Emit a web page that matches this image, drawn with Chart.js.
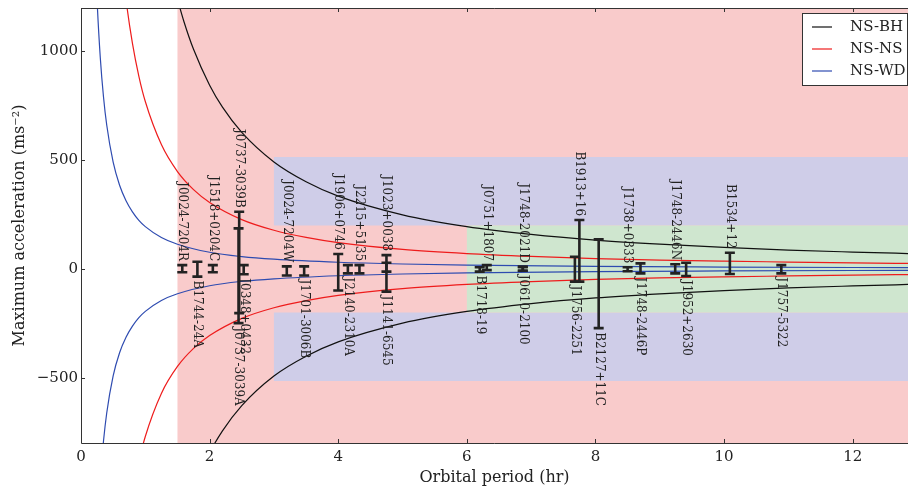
<!DOCTYPE html>
<html>
<head>
<meta charset="utf-8">
<script src="https://cdn.jsdelivr.net/npm/chart.js@4.4.1/dist/chart.umd.min.js"></script>
<style>
  html, body { margin: 0; padding: 0; background: #fff; }
  #wrap { width: 908px; height: 488px; }
</style>
</head>
<body>
<div id="wrap"><canvas id="grafico" width="908" height="488"></canvas></div>
<script>
// ===== DADOS =====
const xTicks = [0, 2, 4, 6, 8, 10, 12];
const yTicks = [-500, 0, 500, 1000];

// curvas de aceleração máxima (período em horas, aceleração em m/s^2)
const bhPeriodo = [1.5, 1.6, 1.75, 2, 2.2, 2.5, 3, 3.5, 4, 5, 6, 7, 8, 9, 10, 11, 12, 13];
const bhAcel    = [1240, 1138, 1010, 845, 744, 628, 492, 401, 335, 249, 195, 159, 133, 114, 99, 87, 78, 70];

const nsPeriodo = [0.6, 0.7, 0.8, 0.9, 1, 1.25, 1.5, 1.75, 2, 2.5, 3, 3.5, 4, 5, 6, 7, 8, 9, 10, 11, 12, 13];
const nsAcel    = [1522, 1239, 1037, 886, 770, 572, 448, 365, 306, 227, 178, 145, 121, 90, 71, 58, 48, 41, 36, 32, 28, 25];

const wdPeriodo = [0.2, 0.25, 0.3, 0.35, 0.4, 0.5, 0.6, 0.7, 0.8, 0.9, 1, 1.25, 1.5, 2, 2.5, 3, 4, 5, 6, 8, 10, 13];
const wdAcel    = [1667, 1238, 971, 791, 662, 491, 385, 314, 263, 224, 195, 145, 114, 77, 57, 45, 31, 23, 18, 12, 9, 6];

// zonas sombreadas (início em x, faixa em y)
const zonaX    = [1.5, 3, 3, 6];
const zonaYmin = [-800, 200, -515, -200];
const zonaYmax = [1200, 515, -200, 200];

// pulsares: período orbital, faixa de aceleração, lado do rótulo
const psrNomes = ['J0024-7204R', 'B1744-24A', 'J1518+0204C', 'J0737-3039B', 'J0348+0432', 'J0737-3039A',
  'J0024-7204W', 'J1701-3006B', 'J1906+0746', 'J2140-2310A', 'J2215+5135', 'J1023+0038', 'J1141-6545',
  'B1718-19', 'J0751+1807', 'J1748-2021D', 'J0610-2100', 'J1756-2251', 'B1913+16', 'B2127+11C',
  'J1738+0333', 'J1748-2446P', 'J1748-2446N', 'J1952+2630', 'B1534+12', 'J1757-5322'];
const psrPeriodo = [1.575, 1.81, 2.05, 2.46, 2.53, 2.45,
  3.2, 3.47, 4.0, 4.15, 4.33, 4.75, 4.75,
  6.2, 6.31, 6.87, 6.87, 7.68, 7.75, 8.05,
  8.5, 8.7, 9.24, 9.41, 10.09, 10.89];
const psrMin = [-15, -35, -15, -203, -24, -249,
  -30, -30, -99, -20, -20, -12, -104,
  -12, -5, -8, -8, -58, -58, -272,
  -10, -20, -20, -32, -23, -20];
const psrMax = [18, 33, 18, 263, 18, 187,
  12, 12, 69, 18, 18, 64, 29,
  8, 18, 10, 10, 56, 225, 136,
  8, 26, 22, 29, 75, 18];
const psrLado = ['cima', 'baixo', 'cima', 'cima', 'baixo', 'baixo',
  'cima', 'baixo', 'cima', 'baixo', 'cima', 'cima', 'baixo',
  'baixo', 'cima', 'cima', 'baixo', 'baixo', 'cima', 'baixo',
  'cima', 'baixo', 'cima', 'baixo', 'cima', 'baixo'];

const legendaNomes = ['NS-BH', 'NS-NS', 'NS-WD'];

// ===== ESTILO =====
const corBH = '#111111';
const corNS = '#ee1c1c';
const corWD = '#2e4bb0';
const corZona = ['#f9cbcb', '#cfcde8', '#cfcde8', '#cfe6cf'];
const corTexto = '#222';
const fonte = '"DejaVu Serif", serif';

function pontos(px, py, sinal) {
  return px.map((p, i) => ({ x: p, y: sinal * py[i] }));
}

function curva(px, py, sinal, cor) {
  return {
    data: pontos(px, py, sinal),
    showLine: true,
    borderColor: cor,
    borderWidth: 1.2,
    pointRadius: 0,
    cubicInterpolationMode: 'monotone',
    fill: false
  };
}

// ===== PLUGINS =====
const fundo = {
  id: 'fundo',
  beforeDatasetsDraw(chart) {
    const { ctx, chartArea: a, scales: { x, y } } = chart;
    ctx.save();
    ctx.beginPath();
    ctx.rect(a.left, a.top, a.right - a.left, a.bottom - a.top);
    ctx.clip();
    zonaX.forEach((x0, i) => {
      const px = x.getPixelForValue(x0);
      const topo = y.getPixelForValue(zonaYmax[i]);
      const base = y.getPixelForValue(zonaYmin[i]);
      ctx.fillStyle = corZona[i];
      ctx.fillRect(px, topo, a.right - px, base - topo);
    });
    ctx.restore();
  }
};

const pulsares = {
  id: 'pulsares',
  afterDatasetsDraw(chart) {
    const { ctx, scales: { x, y } } = chart;
    ctx.save();
    // barras de erro
    ctx.strokeStyle = '#222';
    ctx.lineWidth = 2.6;
    psrNomes.forEach((nome, i) => {
      const px = x.getPixelForValue(psrPeriodo[i]);
      const yTopo = y.getPixelForValue(psrMax[i]);
      const yBase = y.getPixelForValue(psrMin[i]);
      ctx.beginPath();
      ctx.moveTo(px, yTopo); ctx.lineTo(px, yBase);
      ctx.moveTo(px - 5, yTopo); ctx.lineTo(px + 5, yTopo);
      ctx.moveTo(px - 5, yBase); ctx.lineTo(px + 5, yBase);
      ctx.stroke();
    });
    // rótulos verticais
    ctx.font = '12px ' + fonte;
    ctx.fillStyle = corTexto;
    ctx.textBaseline = 'middle';
    psrNomes.forEach((nome, i) => {
      const px = x.getPixelForValue(psrPeriodo[i]);
      const cima = psrLado[i] === 'cima';
      const ref = y.getPixelForValue(cima ? psrMax[i] : psrMin[i]);
      ctx.save();
      ctx.translate(px, ref);
      ctx.rotate(Math.PI / 2);
      ctx.textAlign = cima ? 'right' : 'left';
      ctx.fillText(nome, cima ? -4 : 4, 0);
      ctx.restore();
    });
    ctx.restore();
  }
};

const eixos = {
  id: 'eixos',
  afterDraw(chart) {
    const { ctx, chartArea: a, scales: { x, y } } = chart;
    ctx.save();
    ctx.strokeStyle = '#333';
    ctx.lineWidth = 1;
    ctx.beginPath();
    ctx.moveTo(a.left + 0.5, a.top + 0.5);
    ctx.lineTo(a.left + 0.5, a.bottom + 0.5);
    ctx.lineTo(a.right, a.bottom + 0.5);
    ctx.moveTo(a.left + 0.5, a.top + 0.5);
    ctx.lineTo(a.right, a.top + 0.5);
    // ticks para dentro
    xTicks.forEach(v => {
      const px = Math.round(x.getPixelForValue(v)) + 0.5;
      ctx.moveTo(px, a.bottom); ctx.lineTo(px, a.bottom - 4);
      ctx.moveTo(px, a.top); ctx.lineTo(px, a.top + 4);
    });
    yTicks.forEach(v => {
      const py = Math.round(y.getPixelForValue(v)) + 0.5;
      ctx.moveTo(a.left, py); ctx.lineTo(a.left + 4, py);
    });
    ctx.stroke();

    // legenda
    const lx = 802, ly = 13, lw = 105, lh = 72;
    ctx.fillStyle = '#fff';
    ctx.fillRect(lx, ly, lw, lh);
    ctx.strokeStyle = '#333';
    ctx.strokeRect(lx + 0.5, ly + 0.5, lw, lh);
    const cores = [corBH, corNS, corWD];
    ctx.font = '15px ' + fonte;
    ctx.textBaseline = 'middle';
    ctx.textAlign = 'left';
    legendaNomes.forEach((nome, i) => {
      const ry = 27 + i * 22;
      ctx.strokeStyle = cores[i];
      ctx.lineWidth = 1.2;
      ctx.beginPath();
      ctx.moveTo(812, ry); ctx.lineTo(832, ry);
      ctx.stroke();
      ctx.fillStyle = corTexto;
      ctx.fillText(nome, 850, ry);
    });
    ctx.restore();
  }
};

// ===== GRÁFICO =====
Chart.defaults.font.family = fonte;
Chart.defaults.color = corTexto;

// sem folga extra dos rótulos de tick na área do gráfico
function semFolga(s) {
  s.paddingTop = 0;
  s.paddingBottom = 0;
  s.paddingLeft = 0;
  s.paddingRight = 0;
}

const ctxG = document.getElementById('grafico').getContext('2d');
new Chart(ctxG, {
  type: 'scatter',
  data: {
    datasets: [
      curva(wdPeriodo, wdAcel, 1, corWD),
      curva(wdPeriodo, wdAcel, -1, corWD),
      curva(nsPeriodo, nsAcel, 1, corNS),
      curva(nsPeriodo, nsAcel, -1, corNS),
      curva(bhPeriodo, bhAcel, 1, corBH),
      curva(bhPeriodo, bhAcel, -1, corBH)
    ]
  },
  options: {
    responsive: false,
    animation: false,
    devicePixelRatio: 1,
    layout: { padding: { top: 8, right: 0, left: 0, bottom: 0 } },
    plugins: { legend: { display: false }, tooltip: { enabled: false } },
    scales: {
      x: {
        type: 'linear',
        min: 0,
        max: 12.86,
        afterFit: s => { s.height = 45; semFolga(s); },
        afterBuildTicks: s => { s.ticks = xTicks.map(v => ({ value: v })); },
        grid: { display: false, drawTicks: false },
        border: { display: false },
        ticks: { font: { size: 15 }, padding: 5, maxRotation: 0 },
        title: {
          display: true,
          text: 'Orbital period (hr)',
          font: { size: 16 },
          padding: { top: 0, bottom: 1 }
        }
      },
      y: {
        type: 'linear',
        min: -800,
        max: 1200,
        afterFit: s => { s.width = 81; semFolga(s); },
        afterBuildTicks: s => { s.ticks = yTicks.map(v => ({ value: v })); },
        grid: { display: false, drawTicks: false },
        border: { display: false },
        ticks: {
          font: { size: 15 },
          padding: 3,
          callback: v => v < 0 ? '\u2212' + Math.abs(v) : String(v)
        },
        title: {
          display: true,
          text: 'Maximum acceleration (ms\u207B\u00B2)',
          font: { size: 16 },
          padding: { top: 10, bottom: 0 }
        }
      }
    }
  },
  plugins: [fundo, pulsares, eixos]
});
</script>
</body>
</html>
